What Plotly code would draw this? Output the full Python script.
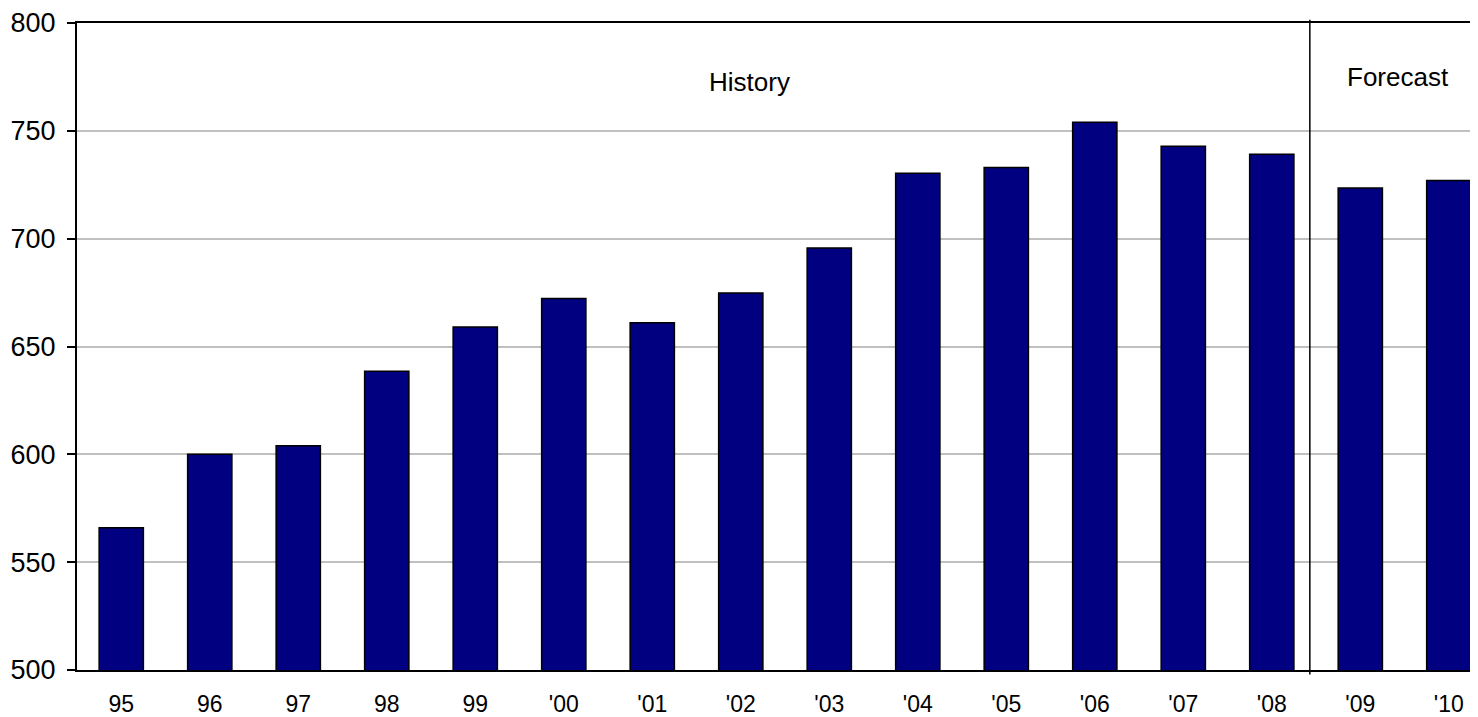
import plotly.graph_objects as go

categories = ["95", "96", "97", "98", "99", "'00", "'01", "'02", "'03", "'04",
              "'05", "'06", "'07", "'08", "'09", "'10"]
values = [566, 600, 604, 638.5, 659, 672.3, 661, 674.8, 695.7, 730.3,
          733, 754, 742.8, 739.2, 723.5, 727]
y_ticks = [500, 550, 600, 650, 700, 750, 800]
section_labels = ["History", "Forecast"]

FONT = "Liberation Sans, Arial, sans-serif"

fig = go.Figure()
fig.add_trace(go.Bar(
    x=list(range(len(categories))),
    y=values,
    marker=dict(color="#000080", line=dict(color="#000000", width=1.5)),
    width=0.5,
    hoverinfo="skip",
))

fig.add_shape(type="line", xref="x", yref="paper", x0=13.43, x1=13.43,
              y0=-0.007, y1=1.005, line=dict(color="#000000", width=1.5))

fig.add_annotation(x=7.1, y=772.5, xref="x", yref="y", text=section_labels[0],
                   showarrow=False, font=dict(family=FONT, size=26, color="#000000"))
fig.add_annotation(x=14.43, y=775, xref="x", yref="y", text=section_labels[1],
                   showarrow=False, font=dict(family=FONT, size=26, color="#000000"))

# page has an 8px body margin: size the figure so it fills the window exactly
fig.update_layout(
    width=1470, height=709,
    margin=dict(l=69, r=0, t=13, b=46, pad=0),
    paper_bgcolor="#ffffff", plot_bgcolor="#ffffff",
    showlegend=False,
    font=dict(family=FONT, size=22, color="#000000"),
)
fig.update_xaxes(
    range=[-0.5, 15.33],
    tickmode="array", tickvals=list(range(len(categories))), ticktext=categories,
    showgrid=False, zeroline=False,
    showline=True, linecolor="#000000", linewidth=2, mirror=True,
    ticks="", ticklabelstandoff=12,
    tickfont=dict(family=FONT, size=23, color="#000000"),
)
fig.update_yaxes(
    range=[500, 800],
    tickmode="array", tickvals=y_ticks,
    showgrid=True, gridcolor="#c0c0c0", gridwidth=1.5,
    zeroline=False,
    showline=True, linecolor="#000000", linewidth=2,
    ticks="outside", ticklen=8, tickwidth=1.5, tickcolor="#000000",
    ticklabelstandoff=6, ticklabeloverflow="allow",
    tickfont=dict(family=FONT, size=27, color="#000000"),
)

fig.write_html("out.html")
